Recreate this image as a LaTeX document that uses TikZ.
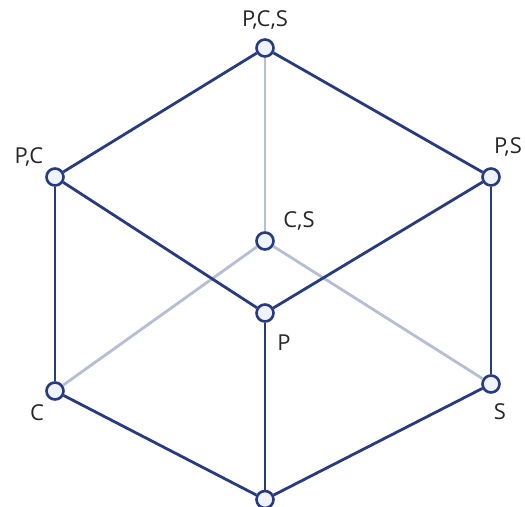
\documentclass[tikz,border=0pt]{standalone}
\usepackage{fontspec}
\setsansfont{Open Sans}
\usetikzlibrary{positioning}
\definecolor{latblue}{RGB}{40,58,128}
\definecolor{latlight}{RGB}{182,190,212}
\definecolor{latfill}{RGB}{238,243,255}

\begin{document}
\begin{tikzpicture}[
  font=\sffamily\fontsize{12.5}{15}\selectfont,
  elem/.style={circle, draw=latblue, line width=1.5pt, fill=latfill,
               minimum size=0.34cm, inner sep=0pt},
  lbl/.style={text=black!85, inner sep=0pt},
  cover/.style={line width=1.6pt, latblue},
  hidden/.style={line width=1.6pt, latlight}
]
  \useasboundingbox (0,0) rectangle (10.5,10.12);

  \node[elem] (pcs) at (5.30,9.16) {};
  \node[elem] (pc)  at (1.10,6.58) {};
  \node[elem] (ps)  at (9.82,6.58) {};
  \node[elem] (cs)  at (5.30,5.30) {};
  \node[elem] (p)   at (5.30,3.86) {};
  \node[elem] (c)   at (1.10,2.30) {};
  \node[elem] (s)   at (9.82,2.44) {};
  \node[elem] (bot) at (5.30,0.13) {};

  % labels
  \node[lbl] (lpcs) at (5.30,9.72) {P,C,S};
  \node[lbl] (lpc)  at (0.58,6.98) {P,C};
  \node[lbl] (lps)  at (10.16,7.18) {P,S};
  \node[lbl] (lcs)  at (5.98,5.70) {C,S};
  \node[lbl] (lp)   at (5.68,3.26) {P};
  \node[lbl] (lc)   at (0.74,1.86) {C};
  \node[lbl] (ls)   at (10.00,1.88) {S};

  % edges behind the front face
  \draw[hidden] (pcs) -- (cs);
  \draw[hidden] (cs) -- (c);
  \draw[hidden] (cs) -- (s);

  \draw[cover] (pcs) -- (pc);
  \draw[cover] (pcs) -- (ps);
  \draw[cover] (pc) -- (p);
  \draw[cover] (ps) -- (p);
  \draw[cover] (pc) -- (c);
  \draw[cover] (ps) -- (s);
  \draw[cover] (p) -- (bot);
  \draw[cover] (c) -- (bot);
  \draw[cover] (s) -- (bot);
\end{tikzpicture}
\end{document}
